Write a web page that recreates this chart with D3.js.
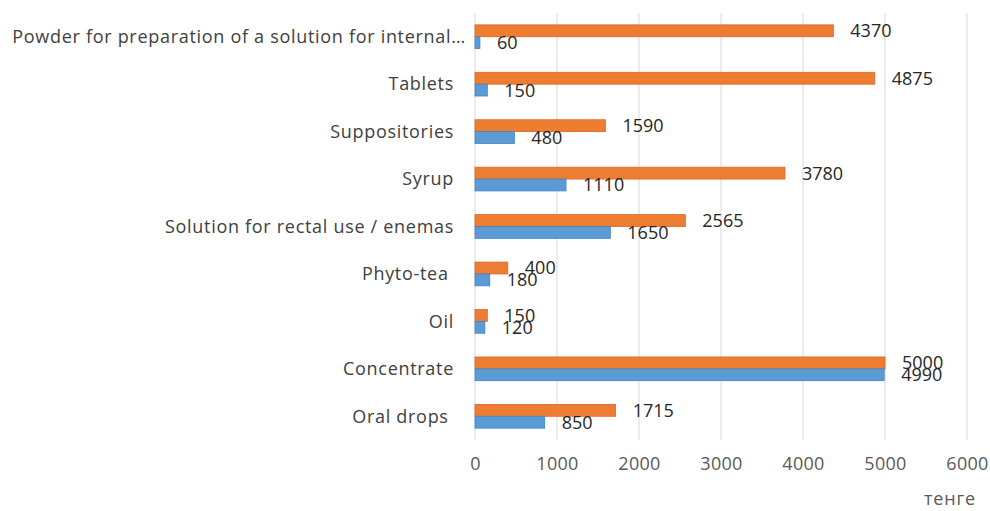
<!doctype html>
<html>
<head>
  <meta charset='utf-8'>
  <style>
    body { margin: 0; background: #fff; }
    text { font-family: 'Open Sans', sans-serif; }
    .cat text { font-size: 18px; letter-spacing: 0.7px; fill: #404040; }
    .tick text { font-size: 18px; letter-spacing: 0.3px; fill: #595959; }
    .val { font-size: 18px; fill: #262626; }
  </style>
</head>
<body>
  <svg width='990' height='511'></svg>
  <script src='https://d3js.org/d3.v7.min.js'></script>
  <script>
    // categories from top to bottom
    var categories = [
      'Powder for preparation of a solution for internal\u2026',
      'Tablets',
      'Suppositories',
      'Syrup',
      'Solution for rectal use / enemas',
      'Phyto-tea ',
      'Oil',
      'Concentrate',
      'Oral drops '
    ];
    var priceMax = [4370, 4875, 1590, 3780, 2565, 400, 150, 5000, 1715];
    var priceMin = [60, 150, 480, 1110, 1650, 180, 120, 4990, 850];
    var xTicks = [0, 1000, 2000, 3000, 4000, 5000, 6000];
    var axisTitle = 'тенге';

    var svg = d3.select('svg');
    var plotLeft = 475, plotRight = 967, plotTop = 13, plotBottom = 440;

    var x = d3.scaleLinear().domain([0, 6000]).range([plotLeft, plotRight]);
    var y = d3.scaleBand().domain(categories).range([plotTop, plotBottom])
              .paddingInner(0.5).paddingOuter(0.25);
    var sub = d3.scaleBand().domain(['max', 'min']).range([0, y.bandwidth()]);

    // vertical gridlines
    svg.append('g')
       .selectAll('line')
       .data(xTicks)
       .enter().append('line')
               .attr('x1', function(d) { return x(d); })
               .attr('x2', function(d) { return x(d); })
               .attr('y1', plotTop)
               .attr('y2', plotBottom)
               .attr('stroke', '#d9d9d9')
               .attr('stroke-width', 1);

    // x axis labels only
    var xAxis = svg.append('g')
                   .attr('transform', 'translate(0,' + plotBottom + ')')
                   .call(d3.axisBottom(x).tickValues(xTicks).tickSize(0).tickPadding(17)
                           .tickFormat(d3.format('d')));
    xAxis.select('.domain').remove();

    // category labels
    var cat = svg.append('g').attr('class', 'cat');
    cat.selectAll('text')
       .data(categories)
       .enter().append('text')
               .attr('xml:space', 'preserve')
               .attr('text-anchor', 'end')
               .attr('x', function(d) {
                 return d.slice(-1) === '\u2026' ? plotLeft - 9 : plotLeft - 21;
               })
               .attr('y', function(d) { return y(d) + y.bandwidth() / 2; })
               .attr('dy', '0.35em')
               .text(function(d) { return d; });

    var series = [
      { key: 'max', values: priceMax, fill: '#ed7d31', stroke: '#e0622a' },
      { key: 'min', values: priceMin, fill: '#5b9bd5', stroke: '#3f83c4' }
    ];

    series.forEach(function(s) {
      var g = svg.append('g');
      g.selectAll('rect')
       .data(s.values)
       .enter().append('rect')
               .attr('x', x(0))
               .attr('y', function(d, i) { return y(categories[i]) + sub(s.key); })
               .attr('width', function(d) { return x(d) - x(0); })
               .attr('height', sub.bandwidth())
               .attr('fill', s.fill)
               .attr('stroke', s.stroke)
               .attr('stroke-width', 0.8);

      g.selectAll('text')
       .data(s.values)
       .enter().append('text')
               .attr('class', 'val')
               .attr('x', function(d) { return x(d) + 17; })
               .attr('y', function(d, i) {
                 return y(categories[i]) + sub(s.key) + sub.bandwidth() / 2;
               })
               .attr('dy', '0.36em')
               .text(function(d) { return d; });
    });

    svg.append('text')
       .attr('x', 950)
       .attr('y', 505)
       .attr('text-anchor', 'middle')
       .style('font-size', '18px')
       .style('letter-spacing', '0.8px')
       .style('fill', '#595959')
       .text(axisTitle);
  </script>
</body>
</html>
